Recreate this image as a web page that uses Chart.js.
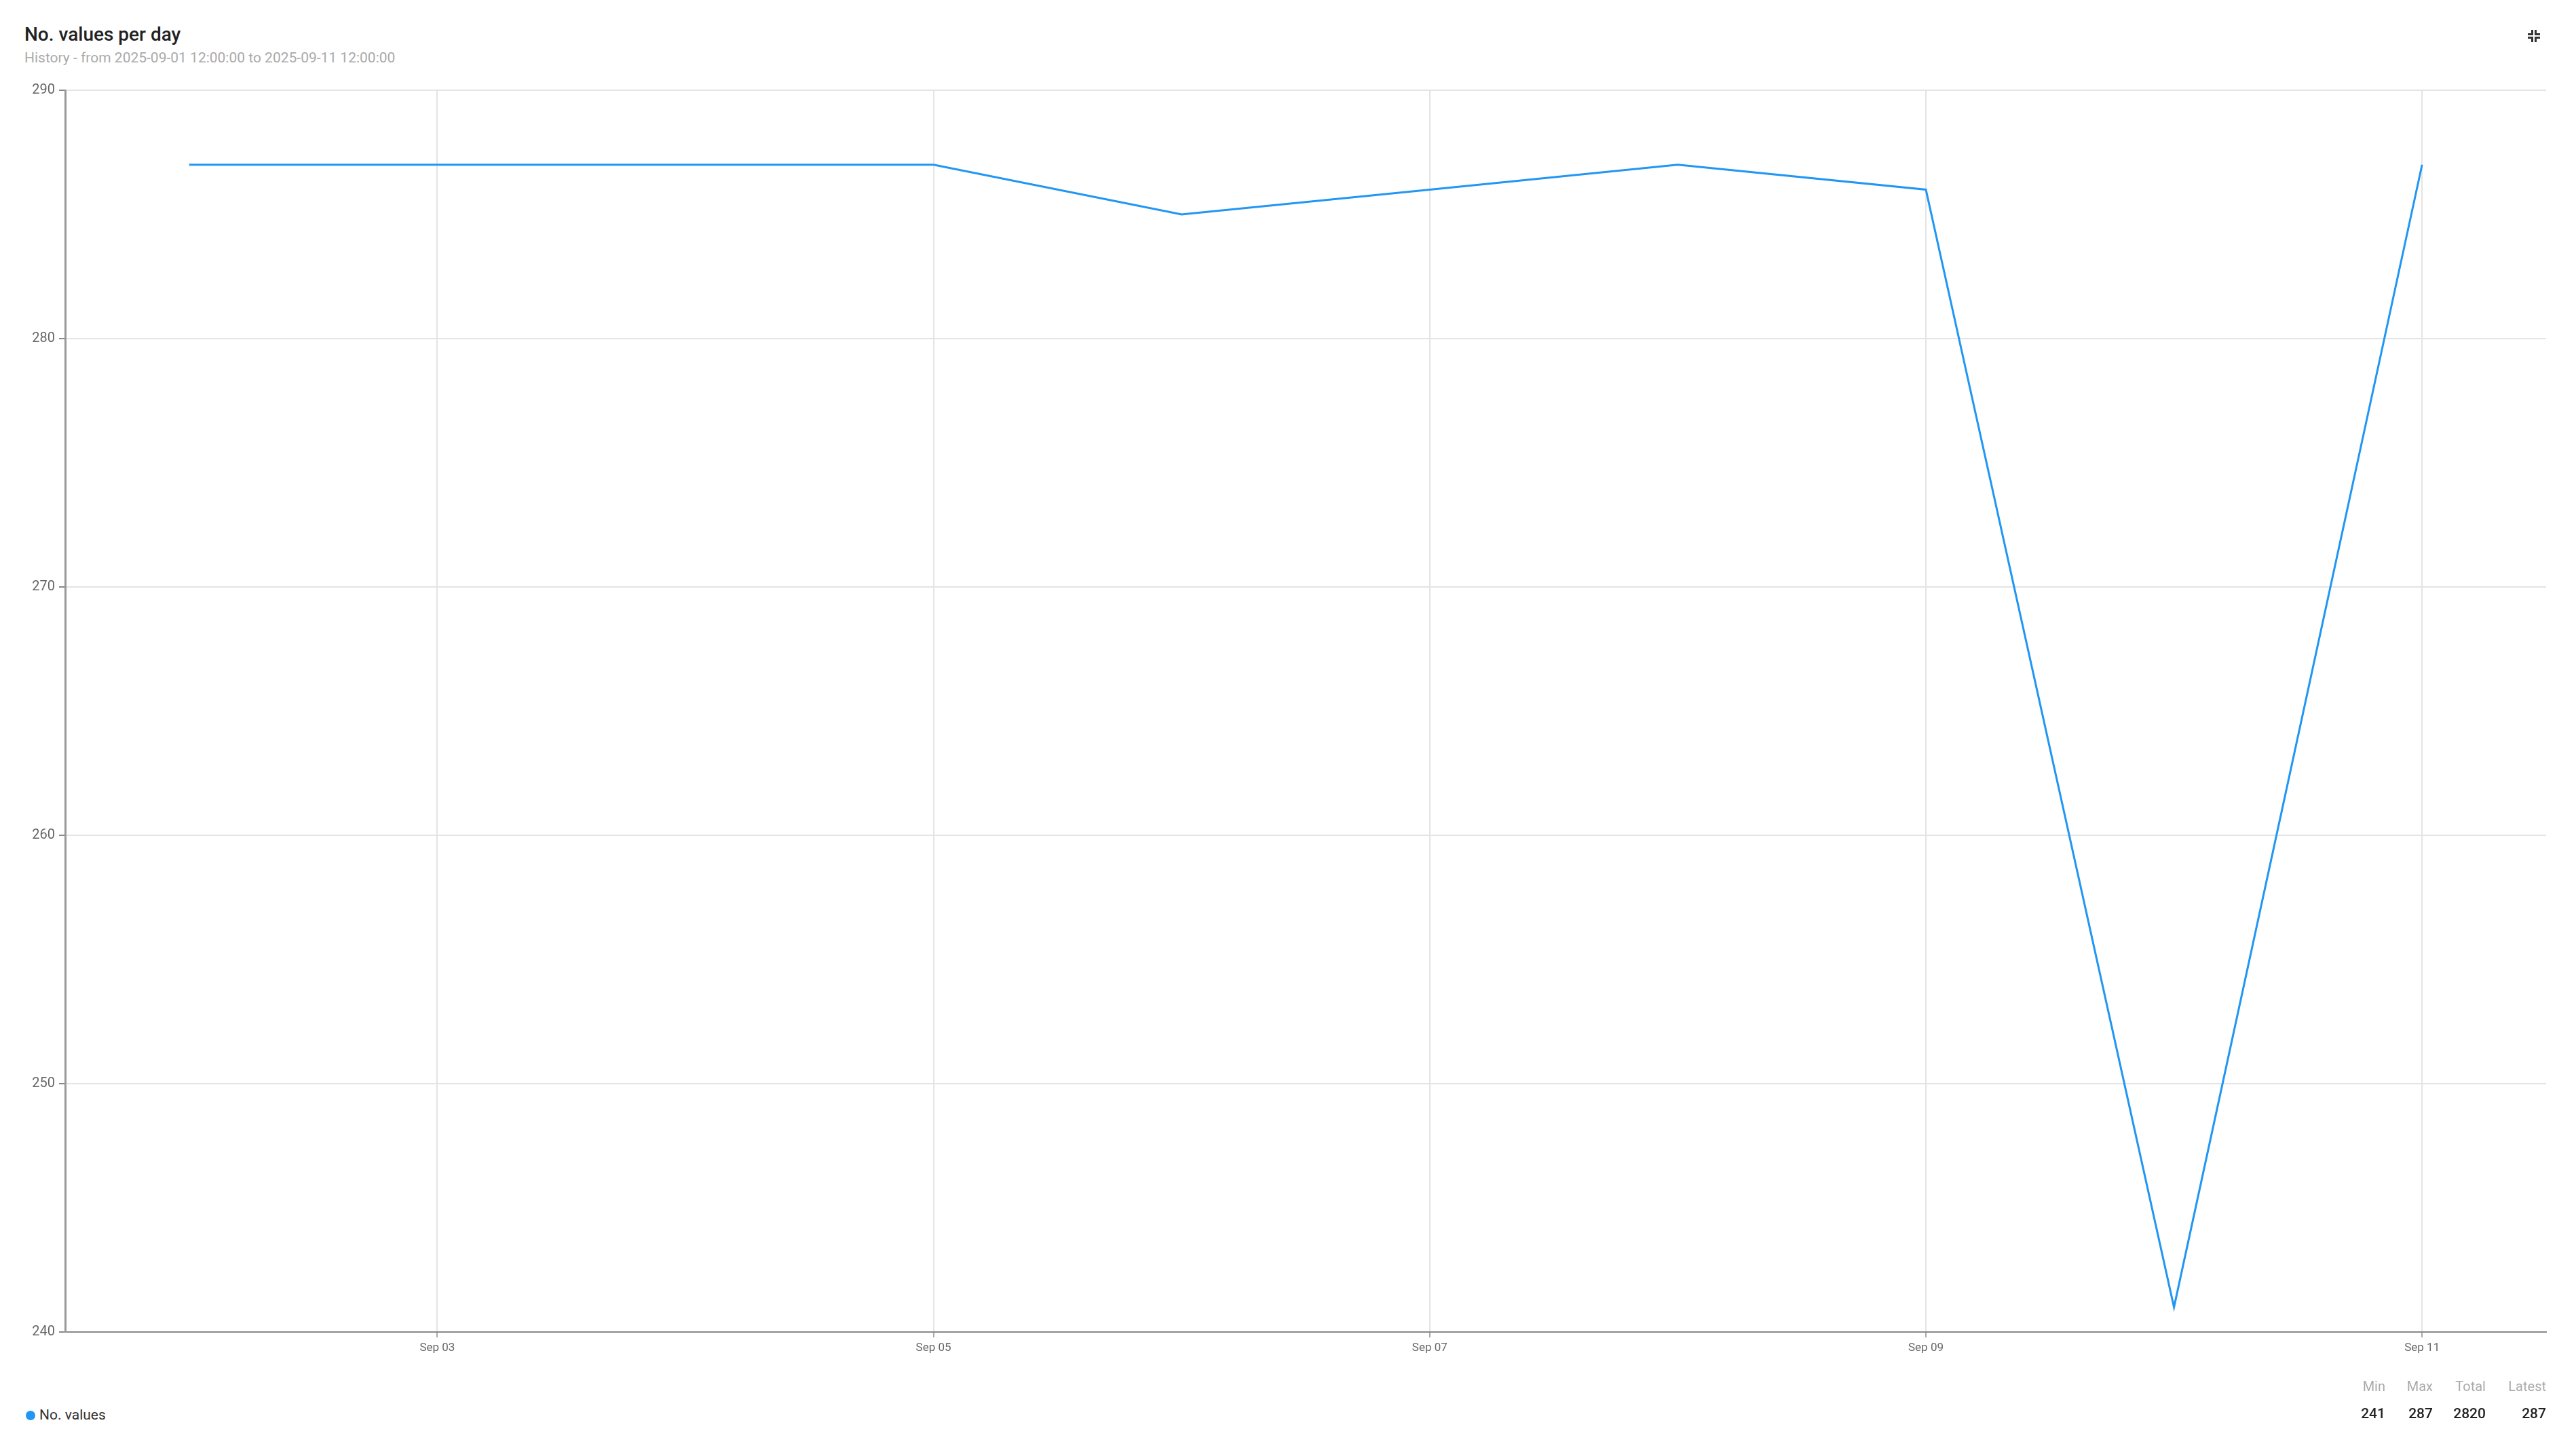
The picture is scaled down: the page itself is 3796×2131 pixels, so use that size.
<!DOCTYPE html>
<html>
<head>
<meta charset="utf-8">
<script src="https://cdn.jsdelivr.net/npm/chart.js@4.4.1/dist/chart.umd.min.js"></script>
<style>
  html,body{margin:0;padding:0;background:#fff;font-family:Roboto,"Noto Sans",sans-serif;}
  #wrap{position:relative;width:3796px;height:2131px;overflow:hidden;}
  #title{position:absolute;left:36px;top:34px;font-size:28px;font-weight:500;color:#222;}
  #subtitle{position:absolute;left:36px;top:73px;font-size:21px;color:#aaa;}
  #icon{position:absolute;left:3722px;top:41px;width:22px;height:22px;}
  #icon span{position:absolute;width:5px;height:5px;border-color:#333;border-style:solid;}
  #box{position:absolute;left:0;top:100px;width:3796px;height:1930px;}
  #legend{position:absolute;left:38px;top:2073px;font-size:21px;color:#333;}
  #legend i{display:inline-block;width:14px;height:14px;border-radius:50%;background:#2196f3;margin-right:6px;vertical-align:-1px;}
  #stats{position:absolute;right:44px;top:2026px;border-collapse:collapse;table-layout:fixed;}
  #stats td{text-align:right;padding:0;}
  #stats .h td{font-size:20px;color:#aaa;height:34px;}
  #stats .v td{font-size:21px;font-weight:500;color:#222;height:46px;}
</style>
</head>
<body>
<div id="wrap">
  <div id="title">No. values per day</div>
  <div id="subtitle">History - from 2025-09-01 12:00:00 to 2025-09-11 12:00:00</div>
  <div id="icon">
    <span style="left:3px;top:3px;border-width:0 3px 3px 0"></span>
    <span style="left:13px;top:3px;border-width:0 0 3px 3px"></span>
    <span style="left:3px;top:13px;border-width:3px 3px 0 0"></span>
    <span style="left:13px;top:13px;border-width:3px 0 0 3px"></span>
  </div>
  <div id="box"><canvas id="chart"></canvas></div>
  <div id="legend"><i></i>No. values</div>
  <table id="stats">
    <colgroup><col style="width:70px"><col style="width:70px"><col style="width:78px"><col style="width:89px"></colgroup>
    <tr class="h"><td>Min</td><td>Max</td><td>Total</td><td>Latest</td></tr>
    <tr class="v"><td id="sMin"></td><td id="sMax"></td><td id="sTot"></td><td id="sLast"></td></tr>
  </table>
</div>
<script>
// data
const days = ['Sep 02','Sep 03','Sep 04','Sep 05','Sep 06','Sep 07','Sep 08','Sep 09','Sep 10','Sep 11'];
const values = [287,287,287,287,285,286,287,286,241,287];
const yTicks = [240,250,260,270,280,290];

// stats
document.getElementById('sMin').textContent = Math.min(...values);
document.getElementById('sMax').textContent = Math.max(...values);
document.getElementById('sTot').textContent = values.reduce((a,b)=>a+b,0);
document.getElementById('sLast').textContent = values[values.length-1];

const ctx = document.getElementById('chart');

new Chart(ctx,{
  type:'line',
  data:{
    labels:days,
    datasets:[{
      label:'No. values',
      data:values,
      borderColor:'#2196f3',
      borderWidth:3,
      pointRadius:0,
      tension:0,
      fill:false
    }]
  },
  options:{
    responsive:true,
    maintainAspectRatio:false,
    animation:false,
    layout:{padding:{top:33,right:44,bottom:27,left:0}},
    plugins:{legend:{display:false},tooltip:{enabled:false}},
    scales:{
      x:{
        type:'category',
        offset:true,
        afterFit:function(s){ s.height = 40; },
        grid:{
          offset:false,
          color:c => (c.index % 2 === 1) ? '#e4e4e4' : 'rgba(0,0,0,0)',
          tickColor:c => (c.index % 2 === 1) ? '#aaa' : 'rgba(0,0,0,0)',
          tickLength:8,
          lineWidth:2
        },
        border:{color:'#888',width:2},
        ticks:{
          autoSkip:false,
          maxRotation:0,
          color:'#666',
          font:{family:'Roboto',size:17},
          padding:6,
          callback:function(v,i){ return i % 2 === 1 ? days[i] : ''; }
        }
      },
      y:{
        min:yTicks[0],
        max:yTicks[yTicks.length-1],
        afterFit:function(s){ s.width = 96; },
        afterBuildTicks:function(s){ s.ticks = yTicks.map(v=>({value:v})); },
        grid:{color:'#e4e4e4',tickColor:'#888',tickLength:9,lineWidth:2},
        border:{color:'#999',width:3},
        ticks:{color:'#666',font:{family:'Roboto',size:20},padding:6}
      }
    }
  }
});
</script>
</body>
</html>
